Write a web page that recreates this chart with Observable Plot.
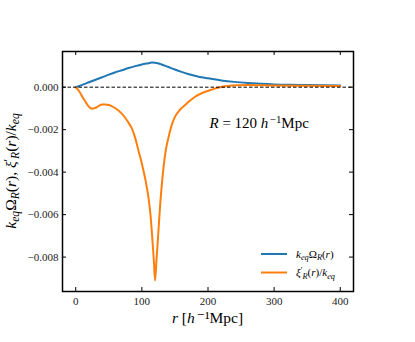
<!DOCTYPE html>
<html><head><meta charset="utf-8">
<script src="https://cdn.jsdelivr.net/npm/d3@7"></script>
<script src="https://cdn.jsdelivr.net/npm/@observablehq/plot@0.6"></script>
<style>
body{margin:0;background:#fff}
#chart svg{font-family:"Liberation Serif","DejaVu Serif",serif;background:#fff}
</style>
</head><body><div id="chart"></div>
<script>
// ---- data ----
const rOmega = [0,10,20,30,40,50,60,70,80,90,100,110,115,120,130,140,150,160,170,180,190,200,220,240,260,280,300,325,350,375,400];
const omega  = [0,0.00011,0.00023,0.00035,0.00047,0.00059,0.0007,0.0008,0.0009,0.00099,0.00107,0.00113,0.00116,0.00115,0.00107,0.00095,0.00083,0.00072,0.00062,0.00054,0.00047,0.00042,0.00032,0.00025,0.0002,0.00016,0.00013,0.00011,0.0001,0.00009,0.00008];
const rXi = [0,5,10,15,20,25,30,35,40,45,50,55,60,65,70,75,80,85,90,95,100,105,110,113,116,118,120,122,125,128,132,136,140,145,150,158,165,173,180,193,205,218,230,245,260,300,350,400];
const xi  = [0,-0.00018,-0.00045,-0.0007,-0.00092,-0.00102,-0.00097,-0.00088,-0.00082,-0.00081,-0.00084,-0.0009,-0.00099,-0.00111,-0.00126,-0.00145,-0.00168,-0.00195,-0.0024,-0.003,-0.0036,-0.0043,-0.0052,-0.006,-0.0072,-0.0081,-0.0091,-0.0082,-0.0068,-0.0054,-0.0040,-0.0030,-0.0024,-0.0018,-0.0014,-0.00105,-0.00085,-0.00063,-0.00046,-0.00025,-0.00012,0,0.00006,0.00009,0.0001,0.00008,0.00007,0.00006];
const xTicks = [0,100,200,300,400];
const yTicks = [-0.008,-0.006,-0.004,-0.002,0];
const seriesNames = ["omega","xi"];
const seriesColors = ["#1f77b4","#ff7f0e"];
const seriesLabelsHTML = [
  '<tspan font-style="italic">k</tspan><tspan font-style="italic" font-size="75%" dy="2.5">eq</tspan><tspan dy="-2.5">Ω</tspan><tspan font-style="italic" font-size="75%" dy="2.5">R</tspan><tspan dy="-2.5">(</tspan><tspan font-style="italic">r</tspan>)',
  '<tspan font-style="italic">ξ</tspan><tspan font-size="75%" dy="-3.5">′</tspan><tspan font-style="italic" font-size="75%" dy="6">R</tspan><tspan dy="-2.5">(</tspan><tspan font-style="italic">r</tspan>)/<tspan font-style="italic">k</tspan><tspan font-style="italic" font-size="75%" dy="2.5">eq</tspan>'
];
const annotation = {r: 203, v: -0.00172};

const omegaData = rOmega.map((r,i)=>({r, v: omega[i]}));
const xiData = rXi.map((r,i)=>({r, v: xi[i]}));

const W = 415, H = 342, ML = 62, MR = 62, MT = 51, MB = 51;
const FW = W - ML - MR, FH = H - MT - MB;
const TL = 4;

function htmlText(g, x, y, html, opts) {
  const t = g.append("text").attr("x", x).attr("y", y)
    .attr("font-size", opts.size).attr("fill", "black")
    .attr("text-anchor", opts.anchor || "start");
  if (opts.transform) t.attr("transform", opts.transform);
  t.html(html);
  return t;
}

function overlay(index, scales, values, dims) {
  const g = d3.create("svg:g");
  const fr = dims.width - dims.marginRight, fb = dims.height - dims.marginBottom;
  // legend
  seriesNames.forEach((s, i) => {
    const y = fb - 37 + i * 18.5;
    g.append("line").attr("x1", fr - 92).attr("x2", fr - 66).attr("y1", y).attr("y2", y)
      .attr("stroke", seriesColors[i]).attr("stroke-width", 2);
    htmlText(g, fr - 57, y + 3.5, seriesLabelsHTML[i], {size: 11});
  });
  // annotation
  htmlText(g, scales.x(annotation.r), scales.y(annotation.v) + 5,
    '<tspan font-style="italic">R</tspan> = 120 <tspan font-style="italic">h</tspan><tspan font-size="72%" dy="-5" dx="1.5">−1</tspan><tspan dy="5">Mpc</tspan>', {size: 15});
  // x label
  htmlText(g, (dims.marginLeft + fr) / 2, 322.5,
    '<tspan font-style="italic">r</tspan><tspan> [</tspan><tspan font-style="italic">h</tspan><tspan dx="2">⁻¹Mpc]</tspan>', {size: 15.5, anchor: "middle"});
  // y label
  const cy = (dims.marginTop + fb) / 2;
  htmlText(g, 0, 0,
    '<tspan font-style="italic">k</tspan><tspan font-style="italic" font-size="75%" dy="3">eq</tspan><tspan dy="-3">Ω</tspan><tspan font-style="italic" font-size="75%" dy="3">R</tspan><tspan dy="-3">(</tspan><tspan font-style="italic">r</tspan>), <tspan font-style="italic">ξ</tspan><tspan font-size="75%" dy="-4">′</tspan><tspan font-style="italic" font-size="75%" dy="7">R</tspan><tspan dy="-3">(</tspan><tspan font-style="italic">r</tspan>)/<tspan font-style="italic">k</tspan><tspan font-style="italic" font-size="75%" dy="3">eq</tspan>',
    {size: 15.5, anchor: "middle", transform: `translate(16,${cy}) rotate(-90)`});
  return g.node();
}

const chart = Plot.plot({
  width: W, height: H,
  marginLeft: ML, marginRight: MR, marginTop: MT, marginBottom: MB,
  x: {domain: [-20, 420]},
  y: {domain: [-0.00962, 0.00168]},
  style: {fontFamily: '"Liberation Serif","DejaVu Serif",serif', background: "white"},
  marks: [
    Plot.line(omegaData, {x: "r", y: "v", stroke: seriesColors[0], strokeWidth: 2, curve: "monotone-x"}),
    Plot.line(xiData, {x: "r", y: "v", stroke: seriesColors[1], strokeWidth: 2, curve: "monotone-x"}),
    Plot.ruleY([0], {stroke: "black", strokeWidth: 1, strokeDasharray: "3.5,2"}),
    Plot.tickX(xTicks, {x: d => d, stroke: "black", strokeWidth: 1, insetTop: FH - TL}),
    Plot.tickX(xTicks, {x: d => d, stroke: "black", strokeWidth: 1, insetBottom: FH - TL}),
    Plot.tickY(yTicks, {y: d => d, stroke: "black", strokeWidth: 1, insetRight: FW - TL}),
    Plot.tickY(yTicks, {y: d => d, stroke: "black", strokeWidth: 1, insetLeft: FW - TL}),
    Plot.axisX(xTicks, {anchor: "bottom", tickSize: 0, tickPadding: 6, fontSize: 11, color: "#222", label: null, tickFormat: d => String(d)}),
    Plot.axisY(yTicks, {anchor: "left", tickSize: 0, tickPadding: 4, fontSize: 11, color: "#222", label: null, tickFormat: d3.format(".3f")}),
    Plot.frame({stroke: "black", strokeWidth: 1.5}),
    overlay
  ]
});
document.getElementById("chart").appendChild(chart);
</script>
</body></html>
